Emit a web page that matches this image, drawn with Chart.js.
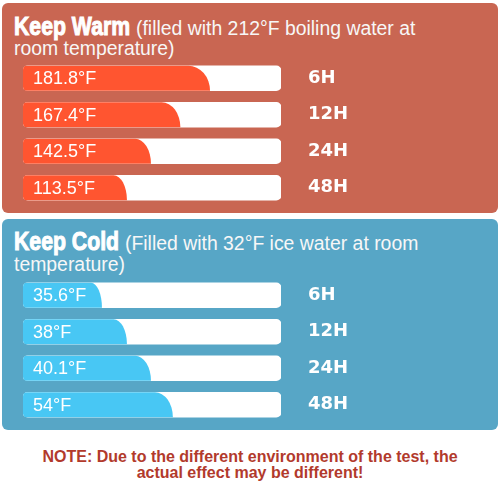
<!DOCTYPE html>
<html>
<head>
<meta charset="utf-8">
<script src="https://cdn.jsdelivr.net/npm/chart.js@4"></script>
<style>
  html, body { margin: 0; padding: 0; background: #fff; }
  body { width: 500px; height: 483px; position: relative; overflow: hidden; font-family: "Liberation Sans", Arial, sans-serif; }
  .panel { position: absolute; left: 2px; width: 496px; border-radius: 6px; }
  .warm { top: 3px; height: 210px; background: #c96652; }
  .cold { top: 219px; height: 211px; background: #57a6c6; }
  .line { position: absolute; left: 14px; white-space: nowrap; color: #f7f7f7; font-size: 19.4px; line-height: 20px; }
  .big { display: inline-block; font-family: "Liberation Sans", Arial, sans-serif;
         font-weight: bold; font-size: 25px; color: #fff; -webkit-text-stroke: 1px #fff;
         transform: scaleX(0.85); transform-origin: left center; }
  .box { position: absolute; left: 0; width: 500px; height: 146px; }
  .note { position: absolute; left: 0; width: 500px; top: 449px; text-align: center; color: #b23a2c;
          font-weight: bold; font-size: 16px; line-height: 15.5px; }
</style>
</head>
<body>
<div class="panel warm"></div>
<div class="panel cold"></div>

<div class="line" style="top:16px"><span class="big" style="margin-right:-20px">Keep Warm</span> (filled with 212°F boiling water at</div>
<div class="line" style="top:38px">room temperature)</div>
<div class="line" style="top:231px"><span class="big" style="margin-right:-18px">Keep Cold</span> (Filled with 32°F ice water at room</div>
<div class="line" style="top:254px">temperature)</div>

<div class="box" style="top:60px"><canvas id="warmChart"></canvas></div>
<div class="box" style="top:277px"><canvas id="coldChart"></canvas></div>

<div class="note">NOTE: Due to the different environment of the test, the<br>actual effect may be different!</div>

<script>
// hours after filling
const hours = ['6H', '12H', '24H', '48H'];

// keep warm: readings and how far the bar is filled (% of track)
const warmTemps = ['181.8°F', '167.4°F', '142.5°F', '113.5°F'];
const warmFill = [72.5, 61, 49.6, 40.3];

// keep cold
const coldTemps = ['35.6°F', '38°F', '40.1°F', '54°F'];
const coldFill = [30.6, 40.3, 49.6, 58.1];

// full track behind each bar
const trackMax = [100, 100, 100, 100];

// draws the filled part with the rounded "wave" end, plus the reading text
const curvedFill = {
    id: 'curvedFill',
    afterDatasetsDraw(chart, args, opts) {
        const ctx = chart.ctx;
        const meta = chart.getDatasetMeta(0);
        ctx.save();
        meta.data.forEach((bar, i) => {
            const x0 = bar.base;
            const x1 = bar.x;
            const top = bar.y - bar.height / 2;
            const bottom = bar.y + bar.height / 2;
            const h = bar.height;
            const r = 4;
            const rx = Math.min(h, 3 + 0.1 * (x1 - x0));

            ctx.beginPath();
            ctx.moveTo(x0 + r, top);
            ctx.lineTo(x1 - rx, top);
            ctx.ellipse(x1 - rx, bottom, rx, h, 0, -Math.PI / 2, 0);
            ctx.lineTo(x0 + r, bottom);
            ctx.arcTo(x0, bottom, x0, bottom - r, r);
            ctx.lineTo(x0, top + r);
            ctx.arcTo(x0, top, x0 + r, top, r);
            ctx.closePath();
            ctx.fillStyle = opts.color;
            ctx.fill();

            ctx.fillStyle = '#fff';
            ctx.font = '18px "Liberation Sans", Arial, sans-serif';
            ctx.textAlign = 'left';
            ctx.textBaseline = 'middle';
            ctx.fillText(opts.labels[i], x0 + 10, bar.y + 1);
        });
        ctx.restore();
    }
};

function makeChart(id, fill, temps, color) {
    return new Chart(document.getElementById(id), {
        type: 'bar',
        data: {
            labels: hours,
            datasets: [{
                data: fill,
                backgroundColor: 'rgba(0,0,0,0)',
                grouped: false,
                barThickness: 25
            }, {
                data: trackMax,
                backgroundColor: '#ffffff',
                borderRadius: 5,
                borderSkipped: false,
                grouped: false,
                barThickness: 25
            }]
        },
        options: {
            indexAxis: 'y',
            responsive: true,
            maintainAspectRatio: false,
            animation: false,
            layout: { padding: { left: 23, top: 0, bottom: 0, right: 0 } },
            scales: {
                x: { display: false, min: 0, max: 100 },
                y: {
                    position: 'right',
                    grid: { display: false, drawTicks: true, tickLength: 27 },
                    border: { display: false },
                    ticks: {
                        color: '#ffffff',
                        padding: 0,
                        font: { family: '"DejaVu Sans", sans-serif', weight: 'bold', size: 18 }
                    },
                    afterFit(scale) {
                        scale.width = 219;
                        scale.paddingTop = 0;
                        scale.paddingBottom = 0;
                    }
                }
            },
            plugins: {
                legend: { display: false },
                tooltip: { enabled: false },
                curvedFill: { color: color, labels: temps }
            }
        },
        plugins: [curvedFill]
    });
}

makeChart('warmChart', warmFill, warmTemps, '#ff5530');
makeChart('coldChart', coldFill, coldTemps, '#48c7f4');
</script>
</body>
</html>
